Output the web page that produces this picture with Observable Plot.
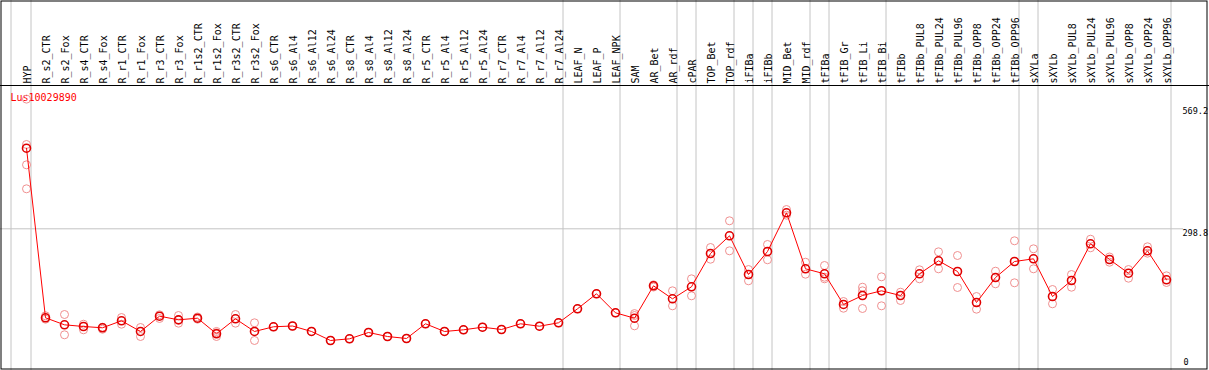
<!DOCTYPE html>
<html>
<head>
<meta charset="utf-8">
<script src="https://cdn.jsdelivr.net/npm/d3@7"></script>
<script src="https://cdn.jsdelivr.net/npm/@observablehq/plot@0.6"></script>
<style>
  html, body { margin: 0; padding: 0; background: #fff; }
  #chart svg { display: block; }
</style>
</head>
<body>
<div id="chart"></div>
<script>
const geneId = "Lus10029890";

const samples = [
  "HYP",
  "R_s2_CTR", "R_s2_Fox", "R_s4_CTR", "R_s4_Fox",
  "R_r1_CTR", "R_r1_Fox", "R_r3_CTR", "R_r3_Fox",
  "R_r1s2_CTR", "R_r1s2_Fox", "R_r3s2_CTR", "R_r3s2_Fox",
  "R_s6_CTR", "R_s6_Al4", "R_s6_Al12", "R_s6_Al24",
  "R_s8_CTR", "R_s8_Al4", "R_s8_Al12", "R_s8_Al24",
  "R_r5_CTR", "R_r5_Al4", "R_r5_Al12", "R_r5_Al24",
  "R_r7_CTR", "R_r7_Al4", "R_r7_Al12", "R_r7_Al24",
  "LEAF_N", "LEAF_P", "LEAF_NPK",
  "SAM", "AR_Bet", "AR_rdf", "cPAR", "TOP_Bet", "TOP_rdf",
  "iFIBa", "iFIBb", "MID_Bet", "MID_rdf",
  "tFIBa", "tFIB_Gr", "tFIB_Li", "tFIB_Bi",
  "tFIBb", "tFIBb_PUL8", "tFIBb_PUL24", "tFIBb_PUL96",
  "tFIBb_OPP8", "tFIBb_OPP24", "tFIBb_OPP96",
  "sXYLa", "sXYLb", "sXYLb_PUL8", "sXYLb_PUL24", "sXYLb_PUL96",
  "sXYLb_OPP8", "sXYLb_OPP24", "sXYLb_OPP96"
];

const means = [
  466.8,
  113.2, 98.6, 95.1, 92.4,
  107.0, 84.7, 116.6, 109.0,
  112.4, 79.9, 111.1, 84.7,
  94.5, 96.1, 84.7, 65.9,
  69.4, 82.6, 74.2, 70.1,
  100.7, 84.7, 88.2, 93.6,
  88.8, 100.7, 95.7, 102.8,
  132.0, 163.3, 123.6,
  112.4, 179.9, 152.8, 177.9, 247.3, 284.2,
  203.5, 251.5, 332.2, 215.4,
  205.0, 141.0, 159.7, 169.5,
  159.7, 205.0, 232.1, 209.8,
  145.1, 197.2, 230.6,
  236.2, 157.6, 191.0, 267.5, 234.8,
  206.2, 252.9, 192.5
];

const replicates = [
  [569.2, 474.6, 432.2, 382.2],
  [117.4, 110.3], [120.1, 77.8], [99.9, 88.2], [93.6, 89.4],
  [113.8, 99.9], [93.0, 74.2], [119.5, 111.8], [118.0, 102.0],
  [114.9, 110.3], [84.7, 81.9, 74.2], [120.1, 102.0], [102.8, 65.9],
  [94.5], [96.1], [84.7], [65.9],
  [69.4], [82.6], [74.2], [70.1],
  [100.7], [84.7], [88.2], [93.6],
  [88.8], [100.7], [95.7], [102.8],
  [132.0], [163.3], [123.6],
  [122.0, 118.0, 96.5], [182.0, 177.4], [169.5, 138.2], [194.5, 159.1], [259.8, 235.4], [315.5, 252.9],
  [213.9, 190.4], [266.1, 234.2], [339.0, 327.2], [229.1, 204.1],
  [222.3, 194.5, 197.9], [147.2, 133.2], [177.0, 169.5, 132.6], [198.7, 138.2, 169.5],
  [166.6, 149.3], [213.3, 194.5], [250.8, 215.4], [243.1, 176.4],
  [157.6, 131.2], [210.4, 184.1], [273.8, 186.2],
  [257.1, 215.4], [172.2, 142.4], [203.5, 177.0], [277.1, 259.2], [229.1, 240.0],
  [213.9, 195.8], [261.3, 247.9], [200.8, 186.8]
];

// group separators: drawn after these samples (plus one before the first)
const groupEnds = [
  "HYP", "R_r7_Al24", "LEAF_NPK", "AR_rdf", "cPAR", "TOP_rdf",
  "iFIBa", "iFIBb", "MID_rdf", "tFIBa", "tFIB_Bi",
  "tFIBb_OPP96", "sXYLa", "sXYLb_OPP96"
];

const yMax = 569.2;
const yMid = 298.8;
const yTop = 597.6;

const meanRows = samples.map((s, i) => ({sample: s, value: means[i]}));
const repRows = samples.flatMap((s, i) => replicates[i].map(v => ({sample: s, value: v})));

const grid = "#c4c4c4";
const mono = "DejaVu Sans Mono";

const chart = Plot.plot({
  width: 1209,
  height: 370,
  marginTop: 0, marginRight: 0, marginBottom: 0, marginLeft: 0,
  style: {background: "#fff", fontFamily: mono},
  x: {type: "point", domain: samples, range: [26, 1166], padding: 0, axis: null},
  y: {domain: [0, yTop], range: [371.6, 85], axis: null},
  marks: [
    // vertical group separators
    Plot.ruleX([samples[0]], {x: d => d, stroke: grid, strokeWidth: 1, dx: -15.5}),
    Plot.ruleX(groupEnds, {x: d => d, stroke: grid, strokeWidth: 1, dx: 4.5}),
    // horizontal mid gridline
    Plot.ruleY([yMid], {stroke: grid, strokeWidth: 1, insetRight: 26}),
    // header separator
    Plot.ruleY([yTop], {stroke: "#000", strokeWidth: 1}),
    // outer frame
    Plot.frame({stroke: "#000", strokeWidth: 1, insetLeft: 0.5, insetTop: 0.5, insetRight: 2.5, insetBottom: 1.5}),
    // category labels (rotated)
    Plot.text(samples, {
      x: d => d, text: d => d, rotate: -90, frameAnchor: "top", dy: 83, dx: 1.5,
      textAnchor: "start", lineAnchor: "middle", fontSize: 10, fontFamily: mono, fill: "#000"
    }),
    // y axis labels
    Plot.text([yMax], {y: d => d, text: d => d.toFixed(1), frameAnchor: "right", dx: -27, dy: 12.5,
      textAnchor: "start", lineAnchor: "middle", fontSize: 8.5, fontFamily: mono, fill: "#000"}),
    Plot.text([yMid], {y: d => d, text: d => d.toFixed(1), frameAnchor: "right", dx: -27, dy: 4,
      textAnchor: "start", lineAnchor: "middle", fontSize: 8.5, fontFamily: mono, fill: "#000"}),
    Plot.text([0], {y: d => d, text: d => String(d), frameAnchor: "right", dx: -26, dy: -9.6,
      textAnchor: "start", lineAnchor: "middle", fontSize: 8.5, fontFamily: mono, fill: "#000"}),
    // gene label
    Plot.text([geneId], {text: d => d, frameAnchor: "top-left", dx: 10, dy: 97,
      textAnchor: "start", lineAnchor: "middle", fontSize: 10, fontFamily: mono, fill: "#ff0000"}),
    // replicates
    Plot.dot(repRows, {x: "sample", y: "value", r: 4, stroke: "#f09090", strokeWidth: 1, fill: "none"}),
    // mean line
    Plot.line(meanRows, {x: "sample", y: "value", stroke: "#ff0000", strokeWidth: 1}),
    // mean dots
    Plot.dot(meanRows, {x: "sample", y: "value", r: 4, stroke: "#e00000", strokeWidth: 1.6, fill: "none"})
  ]
});

document.getElementById("chart").appendChild(chart);
</script>
</body>
</html>
